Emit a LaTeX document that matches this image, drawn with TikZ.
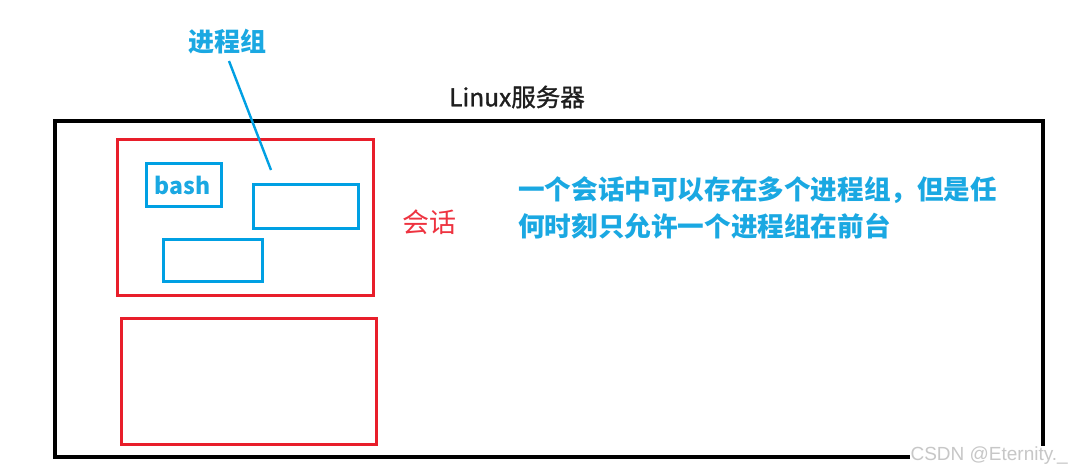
\documentclass[tikz,border=0pt]{standalone}
\usepackage{fontspec}
\setmainfont{Noto Sans CJK SC}
\newfontfamily\medfont[FakeBold=1.2]{Noto Sans CJK SC}
\newfontfamily\wmfont{Liberation Sans}
\definecolor{mblue}{HTML}{00A0E3}
\definecolor{tblue}{HTML}{1AA8E2}
\definecolor{mred}{HTML}{E81E2A}
\definecolor{tred}{HTML}{EE3340}
\definecolor{tdark}{HTML}{1E1E1E}
\begin{document}
\begin{tikzpicture}[x=1pt,y=-1pt,
  server/.style={draw=black,line width=3.2pt},
  session/.style={draw=mred,line width=3pt},
  pgroup/.style={draw=mblue,line width=3pt},
  leader/.style={draw=mblue,line width=2.4pt},
  bluetext/.style={text=tblue,inner sep=0pt},
]
\useasboundingbox[fill=white] (0,0) rectangle (1073,472);
\draw[server] (55,121) rectangle (1043,457);
\draw[session] (117,139) rectangle (373,295);
\draw[session] (121,318) rectangle (376,444);
\draw[pgroup] (146,163) rectangle (221,206);
\node[bluetext,font=\bfseries\fontsize{23}{26}\selectfont] (bash) at (182.5,185) {bash};
\draw[pgroup] (253,184) rectangle (358,228);
\draw[pgroup] (163,239) rectangle (262,281);
\node[bluetext,font=\bfseries\fontsize{26}{30}\selectfont] (pg) at (227,42) {进程组};
\coordinate (pgtop) at (229,61);
\coordinate (pgend) at (271,170);
\draw[leader] (pgtop) -- (pgend);
\node[text=tdark,font=\medfont\fontsize{24.5}{28}\selectfont,inner sep=0pt] (srv) at (517,97) {Linux服务器};
\node[text=tred,font=\fontsize{27}{30}\selectfont,inner sep=0pt] (sess) at (429.5,222) {会话};
\node[bluetext,anchor=west,font=\bfseries\fontsize{26.6}{30}\selectfont] (l1) at (518,190) {一个会话中可以存在多个进程组，但是任};
\node[bluetext,anchor=west,font=\bfseries\fontsize{26.6}{30}\selectfont] (l2) at (518,226) {何时刻只允许一个进程组在前台};
\node[fill=white,text=black!22,font=\wmfont\fontsize{19}{22}\selectfont,inner sep=1pt,anchor=east] (wm) at (1069,456) {CSDN @Eternity.\_};
\end{tikzpicture}
\end{document}
